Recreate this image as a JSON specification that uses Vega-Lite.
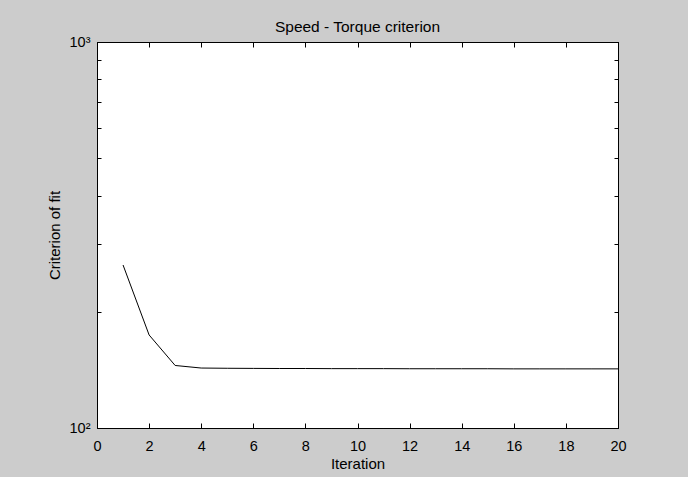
{
  "$schema": "https://vega.github.io/schema/vega-lite/v6.json",
  "autosize": {"type": "none"},
  "padding": {"left": 97, "top": 42, "right": 70, "bottom": 49},
  "width": 521,
  "height": 386,
  "background": "#CCCCCC",
  "title": {
    "text": "Speed - Torque criterion",
    "font": "Liberation Sans",
    "fontSize": 15.5,
    "fontWeight": "normal",
    "color": "#000000",
    "anchor": "middle",
    "frame": "group",
    "baseline": "alphabetic",
    "offset": 11,
    "dy": 24
  },
  "data": {
    "values": [
      {"it": 1, "v": 264.4},
      {"it": 2, "v": 174.2},
      {"it": 3, "v": 145.2},
      {"it": 4, "v": 143.0},
      {"it": 5, "v": 142.8},
      {"it": 6, "v": 142.7},
      {"it": 7, "v": 142.6},
      {"it": 8, "v": 142.6},
      {"it": 9, "v": 142.5},
      {"it": 10, "v": 142.5},
      {"it": 11, "v": 142.5},
      {"it": 12, "v": 142.4},
      {"it": 13, "v": 142.4},
      {"it": 14, "v": 142.4},
      {"it": 15, "v": 142.4},
      {"it": 16, "v": 142.3},
      {"it": 17, "v": 142.3},
      {"it": 18, "v": 142.3},
      {"it": 19, "v": 142.3},
      {"it": 20, "v": 142.3}
    ]
  },
  "layer": [
    {
      "mark": {"type": "line", "color": "#000000", "strokeWidth": 1, "clip": true},
      "encoding": {
        "x": {
          "field": "it",
          "type": "quantitative",
          "scale": {"domain": [0, 20], "nice": false, "zero": false},
          "axis": {
            "orient": "bottom",
            "values": [0, 2, 4, 6, 8, 10, 12, 14, 16, 18, 20],
            "tickSize": -5,
            "labelPadding": 16,
            "title": "Iteration",
            "titlePadding": 4
          }
        },
        "y": {
          "field": "v",
          "type": "quantitative",
          "scale": {"type": "log", "domain": [100, 1000], "nice": false},
          "axis": {
            "orient": "left",
            "values": [100, 200, 300, 400, 500, 600, 700, 800, 900, 1000],
            "labelExpr": "datum.value == 100 ? '10²' : (datum.value == 1000 ? '10³' : '')",
            "tickSize": -4,
            "labelPadding": 11,
            "labelBaseline": "middle",
            "title": "Criterion of fit",
            "titlePadding": 7
          }
        }
      }
    },
    {
      "mark": {"type": "line", "strokeOpacity": 0, "clip": true},
      "encoding": {
        "x": {
          "field": "it",
          "type": "quantitative",
          "axis": {
            "orient": "top",
            "values": [0, 2, 4, 6, 8, 10, 12, 14, 16, 18, 20],
            "tickSize": -5,
            "labels": false,
            "title": null
          }
        },
        "y": {
          "field": "v",
          "type": "quantitative",
          "axis": {
            "orient": "right",
            "values": [100, 200, 300, 400, 500, 600, 700, 800, 900, 1000],
            "tickSize": -4,
            "labels": false,
            "title": null
          }
        }
      }
    }
  ],
  "resolve": {"axis": {"x": "independent", "y": "independent"}},
  "config": {
    "view": {"fill": "#FFFFFF", "stroke": "#000000", "strokeWidth": 1},
    "axis": {
      "grid": false,
      "domain": true,
      "domainColor": "#000000",
      "domainWidth": 1,
      "tickColor": "#000000",
      "tickWidth": 1,
      "labelColor": "#000000",
      "labelFont": "Liberation Sans",
      "labelFontSize": 14.5,
      "titleColor": "#000000",
      "titleFont": "Liberation Sans",
      "titleFontSize": 15,
      "titleFontWeight": "normal",
      "labelOverlap": false,
      "labelFlush": false
    }
  }
}
